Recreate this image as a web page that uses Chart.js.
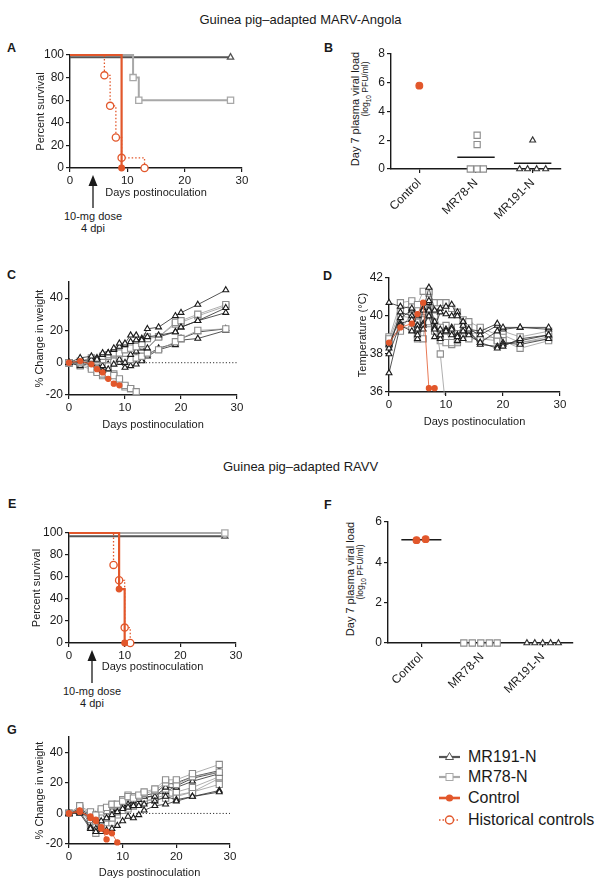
<!DOCTYPE html>
<html lang="en">
<head>
<meta charset="UTF-8">
<title>Guinea pig-adapted MARV-Angola / RAVV</title>
<script src="https://cdn.jsdelivr.net/npm/chart.js"></script>
<style>
  body { margin: 0; background: #fff; font-family: "Liberation Sans", Arial, sans-serif; color: #1a1a1a; }
  #page { position: relative; width: 601px; height: 888px; overflow: hidden; }
  canvas { position: absolute; }
  .head { position: absolute; left: 0; width: 601px; text-align: center; font-size: 13px; line-height: 18px; }
  .tag { position: absolute; font-weight: bold; font-size: 12.5px; line-height: 14px; }
  .dose { position: absolute; width: 90px; margin-left: -45px; text-align: center; font-size: 11px; line-height: 12px; }
  .vt { position: absolute; transform: translate(-50%, -50%) rotate(-90deg); white-space: nowrap; line-height: 12px; }
  .leg { position: absolute; left: 439px; top: 0; font-size: 16px; }
  .leg div { position: absolute; left: 0; height: 20px; width: 170px; white-space: nowrap; }
  .leg svg { position: absolute; left: 0; top: 0; }
  .leg span { position: absolute; left: 29px; top: 0; line-height: 20px; }
</style>
</head>
<body>
<div id="page">
  <div class="head" style="top:11px">Guinea pig–adapted MARV-Angola</div>
  <div class="head" style="top:458px">Guinea pig–adapted RAVV</div>

  <div class="tag" style="left:7px;top:41px">A</div>
  <div class="tag" style="left:324px;top:41px">B</div>
  <div class="tag" style="left:7px;top:268px">C</div>
  <div class="tag" style="left:323px;top:269px">D</div>
  <div class="tag" style="left:8px;top:497px">E</div>
  <div class="tag" style="left:324px;top:498px">F</div>
  <div class="tag" style="left:7px;top:723px">G</div>

  <!-- dose arrows -->
  <svg style="position:absolute;left:87px;top:175px" width="12" height="34">
    <polygon points="6,0 1.5,11 10.5,11" fill="#1a1a1a"/>
    <line x1="6" y1="10" x2="6" y2="33" stroke="#1a1a1a" stroke-width="1.3"/>
  </svg>
  <div class="dose" style="left:93px;top:210px">10-mg dose<br>4 dpi</div>
  <svg style="position:absolute;left:86px;top:650px" width="12" height="34">
    <polygon points="6,0 1.5,11 10.5,11" fill="#1a1a1a"/>
    <line x1="6" y1="10" x2="6" y2="33" stroke="#1a1a1a" stroke-width="1.3"/>
  </svg>
  <div class="dose" style="left:92px;top:685px">10-mg dose<br>4 dpi</div>

  <!-- viral load axis titles -->
  <div class="vt" style="left:355px;top:109px;font-size:11px">Day 7 plasma viral load</div>
  <div class="vt" style="left:367px;top:89px;font-size:8.5px">(log<sub style="font-size:6.5px">10</sub> PFU/ml)</div>
  <div class="vt" style="left:350px;top:579px;font-size:11px">Day 7 plasma viral load</div>
  <div class="vt" style="left:362px;top:572px;font-size:8.5px">(log<sub style="font-size:6.5px">10</sub> PFU/ml)</div>

  <!-- legend -->
  <div class="leg">
    <div style="top:747px">
      <svg width="22" height="20"><line x1="0" y1="10" x2="21" y2="10" stroke="#555" stroke-width="2.2"/>
        <polygon points="10.5,5.5 6.5,12.5 14.5,12.5" fill="#fff" stroke="#555" stroke-width="1"/></svg>
      <span>MR191-N</span></div>
    <div style="top:767px">
      <svg width="22" height="20"><line x1="0" y1="10" x2="21" y2="10" stroke="#a8a8a8" stroke-width="2.2"/>
        <rect x="7" y="6.5" width="7" height="7" fill="#fff" stroke="#a8a8a8" stroke-width="1"/></svg>
      <span>MR78-N</span></div>
    <div style="top:788px">
      <svg width="22" height="20"><line x1="0" y1="10" x2="21" y2="10" stroke="#e2572b" stroke-width="2.6"/>
        <circle cx="10.5" cy="10" r="3.6" fill="#e2572b"/></svg>
      <span>Control</span></div>
    <div style="top:810px">
      <svg width="22" height="20"><line x1="0" y1="10" x2="21" y2="10" stroke="#e2572b" stroke-width="1.6" stroke-dasharray="1.5,2"/>
        <circle cx="10.5" cy="10" r="4" fill="#fff" stroke="#e2572b" stroke-width="1.4"/></svg>
      <span>Historical controls</span></div>
  </div>
</div>

<script>
// ---------------- data ----------------
// A: survival, MARV-Angola (% surviving)
const survDaysA_MR191 = [0, 28];
const survPctA_MR191 = [98, 98];
const survDaysA_MR78 = [0, 11, 12, 28];
const survPctA_MR78 = [100, 80, 60, 60];
const survDaysA_Ctrl = [0, 9];
const survPctA_Ctrl = [100, 0];
const survDaysA_Hist = [0, 6, 7, 8, 9, 13];
const survPctA_Hist = [100, 82, 55, 27, 9, 0];

// E: survival, RAVV
const survDaysE_MR191 = [0, 28];
const survPctE_MR191 = [97, 97];
const survDaysE_MR78 = [0, 28];
const survPctE_MR78 = [100, 100];
const survDaysE_Ctrl = [0, 9, 10];
const survPctE_Ctrl = [100, 49, 0];
const survDaysE_Hist = [0, 8, 9, 10, 11];
const survPctE_Hist = [100, 71, 57, 14, 0];

// B / F: day 7 plasma viral load (log10 PFU/ml), x = group index + jitter
const groupNames = ['Control', 'MR78-N', 'MR191-N'];
const loadB_Ctrl = [5.8];
const xB_Ctrl = [1];
const loadB_MR78 = [2.35, 1.7, 0, 0, 0];
const xB_MR78 = [2.02, 2.02, 1.9, 2.02, 2.13];
const loadB_MR191 = [2.0, 0, 0, 0, 0];
const xB_MR191 = [3.0, 2.77, 2.91, 3.07, 3.23];

const loadF_Ctrl = [5.1, 5.15];
const xF_Ctrl = [0.92, 1.07];
const loadF_MR78 = [0, 0, 0, 0, 0];
const xF_MR78 = [1.7, 1.84, 1.98, 2.12, 2.25];
const loadF_MR191 = [0, 0, 0, 0, 0];
const xF_MR191 = [2.74, 2.87, 3.0, 3.13, 3.26];

// C: % change in weight, MARV-Angola
const daysC = [0, 2, 4, 5, 6, 7, 8, 9, 10, 11, 12, 13, 14, 16, 19, 20, 23, 28];
const wC_MR191_1 = [0, 3, 4, 2, 6, 6, 9, 12, 12, 17, 17, 14, 21, 22, 29, 31, 36, 45];
const wC_MR191_2 = [0, 1, 2, 3, 5, 6, 8, 10, 11, 13, 14, 15, 16, 17, 19, 22, 26, 34];
const wC_MR191_3 = [0, -2, 0, -1, -2, -4, -1, 2, 0, 5, 7, 9, 9, 16, 19, 22, 26, 31];
const wC_MR191_4 = [0, -1, 1, -2, -5, -3, -1, 0, -3, -2, -1, 1, 4, 8, 11, 14, 15, 20];
const wC_MR191_5 = [0, 0, 1, 2, 0, -1, 1, 2, 1, 2, 3, 2, 5, 9, 12, 15, 19, 21];
const wC_MR78_1 = [0, 1, 3, 2, 4, 5, 6, 6, 8, 9, 10, 12, 15, 16, 25, 26, 30, 36];
const wC_MR78_2 = [0, 0, 2, 1, 2, 4, 5, 7, 9, 10, 11, 11, 16, 16, 24, 25, 29, 35];
const wC_MR78_3 = [0, -1, 0, -1, 0, -2, 1, 3, 2, 2, 3, 4, 6, 8, 13, 15, 20, 21];
const wC_MR78_4 = [0, -2, -4, -6, -7, -7, -8, -10, -14, -16, -18];
const wC_MR78_5 = [0, -1, -3, -5, -8, -8, -7, -11, -15, -16];
const wC_Ctrl = [0, 1, -1, -4, -6, -10, -13, -14];

// D: temperature (°C), MARV-Angola
const daysD = [0, 2, 4, 5, 6, 7, 8, 9, 10, 11, 12, 13, 14, 16, 19, 20, 23, 28];
const tD_MR191_1 = [40.7, 40.5, 40.4, 40.0, 40.3, 41.5, 40.3, 40.4, 40.5, 40.6, 40.0, 39.7, 39.3, 39.2, 39.6, 39.4, 39.4, 39.4];
const tD_MR191_2 = [37.0, 39.5, 39.2, 39.0, 39.3, 40.3, 39.3, 39.3, 39.2, 39.3, 38.9, 39.5, 39.2, 38.6, 39.2, 39.3, 39.4, 39.3];
const tD_MR191_3 = [38.0, 39.6, 39.8, 38.8, 40.4, 40.8, 39.4, 40.2, 40.1, 40.0, 40.2, 39.7, 39.0, 38.6, 38.3, 38.4, 38.8, 39.0];
const tD_MR191_4 = [38.3, 40.2, 40.0, 39.3, 39.5, 40.0, 38.9, 39.0, 39.2, 39.4, 38.7, 39.2, 39.2, 38.5, 38.4, 38.5, 38.7, 39.0];
const tD_MR191_5 = [38.5, 39.9, 40.3, 39.5, 39.6, 40.7, 39.7, 38.8, 39.3, 39.0, 39.0, 38.8, 39.3, 39.0, 39.5, 38.6, 38.5, 38.8];
const tD_MR78_1 = [38.8, 40.7, 40.8, 40.6, 41.3, 41.3, 40.7, 40.7, 40.7, 40.4, 40.2, 39.8, 39.7, 39.4, 39.0, 39.2, 38.9, 39.2];
const tD_MR78_2 = [38.9, 39.2, 40.2, 38.8, 38.8, 41.2, 40.0, 38.0, 35.0];
const tD_MR78_3 = [38.6, 40.0, 39.9, 39.4, 40.5, 39.7, 39.2, 38.7, 38.6, 38.6, 38.7, 38.9, 38.8, 38.8, 38.7, 38.7, 38.3, 38.7];
const tD_MR78_4 = [38.5, 39.5, 39.3, 39.0, 39.8, 39.6, 40.2, 39.4, 39.2, 38.5, 38.6, 39.0, 39.5, 38.8, 38.9, 39.0, 38.6, 38.8];
const tD_MR78_5 = [38.7, 40.3, 40.6, 40.0, 39.9, 40.4, 39.5, 39.1, 39.5, 39.2, 39.4, 39.1, 38.9, 39.3, 38.7, 38.6, 38.6, 38.9];
const tD_Ctrl = [38.6, 39.4, 39.6, 40.1, 40.7, 36.2, 36.2];

// G: % change in weight, RAVV
const daysG = [0, 2, 4, 5, 6, 7, 8, 9, 10, 11, 12, 13, 14, 16, 18, 20, 23, 28];
const wG_MR191_1 = [0, 0, -10, -12, -12, -11, -10, -8, -5, -2, -3, -1, 2, 5, 6, 8, 11, 14];
const wG_MR191_2 = [0, 1, -9, -10, -5, -3, -1, 1, 3, 4, 5, 5, 6, 8, 11, 9, 11, 15];
const wG_MR191_3 = [0, 2, -2, -4, 2, 1, 2, 3, 5, 6, 8, 9, 11, 11, 17, 17, 21, 26];
const wG_MR191_4 = [0, 1, -3, -1, 0, -2, 0, 2, 4, 6, 7, 9, 10, 12, 14, 18, 23, 27];
const wG_MR191_5 = [0, 3, -1, -3, -1, 1, 3, 4, 6, 8, 8, 10, 12, 13, 19, 20, 24, 28];
const wG_MR78_1 = [0, 5, 1, -1, 3, 4, 6, 6, 8, 11, 10, 12, 14, 16, 22, 22, 26, 32];
const wG_MR78_2 = [0, 4, 0, -2, 1, 2, 5, 5, 9, 12, 11, 11, 13, 15, 20, 19, 24, 27];
const wG_MR78_3 = [0, 2, -2, -5, -2, 0, 1, 3, 6, 7, 9, 8, 10, 12, 16, 14, 17, 24];
const wG_MR78_4 = [0, 1, -4, -13, -9, -3, -3, 1, 4, 5, 5, 6, 8, 10, 12, 11, 14, 19];
const wG_MR78_5 = [0, 3, -7, -8, -6, -6, -6, -1, 2, 3, 5, 6, 8, 9, 10, 12, 14, 23];
const wG_Ctrl_1 = [0, 2, -3, -5, -10, -12, -13, -19];
const wG_Ctrl_2 = [0, 1, -2, -4, -9, -17];

// tick values
const dayTicks = [0, 10, 20, 30];
const survTicks = [0, 20, 40, 60, 80, 100];
const weightTicks = [-20, 0, 20, 40];
const tempTicks = [36, 38, 40, 42];
const loadTicksB = [0, 2, 4, 6, 8];
const loadTicksF = [0, 2, 4, 6];
const groupTicks = [1, 2, 3];

// ---------------- drawing ----------------
const INK = '#1a1a1a', ORANGE = '#e2572b', DARK = '#555555', LIGHT = '#a8a8a8';
const PAD_T = 10, PAD_R = 14;
Chart.defaults.font.family = "'Liberation Sans', Arial, sans-serif";
Chart.defaults.color = INK;

function axis(min, max, vals, size, title, extra) {
  return Object.assign({
    type: 'linear', min: min, max: max,
    afterBuildTicks: s => { s.ticks = vals.map(v => ({ value: v })); },
    afterFit: s => { if (s.isHorizontal()) s.height = size; else s.width = size; },
    grid: { display: true, drawOnChartArea: false, drawTicks: true, tickLength: 4, color: INK, lineWidth: 1.2 },
    border: { display: true, color: INK, width: 1.4 },
    ticks: { color: INK, font: { size: 12 }, padding: 2, maxRotation: 0, autoSkip: false },
    title: { display: !!title, text: title, color: INK, font: { size: 11 }, padding: 0 }
  }, extra || {});
}

function panel(area, yw, xh, padL, datasets, xScale, yScale) {
  const cv = document.createElement('canvas');
  const left = area.l - yw - padL, top = area.t - PAD_T;
  const w = area.r + PAD_R - left, h = area.b + xh - top;
  cv.width = w; cv.height = h;
  cv.style.left = left + 'px'; cv.style.top = top + 'px';
  cv.style.width = w + 'px'; cv.style.height = h + 'px';
  document.getElementById('page').appendChild(cv);
  new Chart(cv, {
    type: 'line',
    data: { datasets: datasets },
    options: {
      responsive: false, animation: false, events: [],
      layout: { padding: { left: padL, top: PAD_T, right: PAD_R, bottom: 0 } },
      plugins: { legend: { display: false }, tooltip: { enabled: false } },
      scales: { x: xScale, y: yScale }
    }
  });
}

function pts(xs, ys) { return ys.map((y, i) => ({ x: xs[i], y: y })); }

// Kaplan-Meier style step curve
function surv(days, pct, color, shape, r, filled, width, dash) {
  return {
    data: pts(days, pct), stepped: true, clip: false,
    borderColor: color, borderWidth: width, borderDash: dash || [],
    pointStyle: shape, pointRadius: c => c.dataIndex === 0 ? 0 : r,
    pointBorderColor: color, pointBorderWidth: 1.3,
    pointBackgroundColor: filled ? color : '#fff'
  };
}

const STY = {
  mr191: { line: '#2a2a2a', mark: INK, shape: 'triangle', r: 3.4, fill: '#fff' },
  mr78: { line: '#9a9a9a', mark: '#8c8c8c', shape: 'rect', r: 4.4, fill: '#fff' },
  ctrl: { line: ORANGE, mark: ORANGE, shape: 'circle', r: 2.6, fill: ORANGE }
};
function track(days, vals, kind, clip) {
  const s = STY[kind];
  return {
    data: pts(days, vals), clip: clip,
    borderColor: s.line, borderWidth: 0.8,
    pointStyle: s.shape, pointRadius: s.r, pointBorderWidth: 1.1,
    pointBorderColor: s.mark, pointBackgroundColor: s.fill
  };
}
function zeroLine() {
  return { data: [{ x: 0, y: 0 }, { x: 30, y: 0 }], borderColor: '#333', borderWidth: 1,
           borderDash: [1.2, 2], pointRadius: 0, clip: false };
}

function loadDots(xs, ys, kind) {
  const s = STY[kind];
  return { data: pts(xs, ys), showLine: false, clip: false, pointStyle: s.shape,
           pointRadius: kind === 'ctrl' ? 3.4 : s.r, pointBorderWidth: 1.1,
           pointBorderColor: kind === 'mr191' ? '#333' : s.mark, pointBackgroundColor: s.fill };
}
function meanBar(center, ys) {
  const m = ys.reduce((a, b) => a + b, 0) / ys.length;
  return { data: [{ x: center - 0.33, y: m }, { x: center + 0.33, y: m }], borderColor: INK,
           borderWidth: 1.5, pointRadius: 0, clip: false };
}
function groupAxis(min, max, size) {
  return axis(min, max, groupTicks, size, '', {
    ticks: { color: INK, font: { size: 12 }, padding: 3, minRotation: 45, maxRotation: 45,
             autoSkip: false, callback: v => groupNames[v - 1] }
  });
}
function dayAxis(size) {
  return axis(0, 30, dayTicks, size, 'Days postinoculation', {
    ticks: { color: INK, font: { size: 11.5 }, padding: 2, maxRotation: 0, autoSkip: false }
  });
}

// A
panel({ l: 70, t: 55, r: 242, b: 168 }, 36, 32, 34, [
  surv(survDaysA_Ctrl, survPctA_Ctrl, ORANGE, 'circle', 2.8, true, 2.2),
  surv(survDaysA_Hist, survPctA_Hist, ORANGE, 'circle', 3.6, false, 1.3, [1.5, 2]),
  surv(survDaysA_MR78, survPctA_MR78, LIGHT, 'rect', 4.4, false, 2),
  surv(survDaysA_MR191, survPctA_MR191, DARK, 'triangle', 3.6, false, 2)
], dayAxis(32), axis(0, 100, survTicks, 36, 'Percent survival'));

// B
panel({ l: 391, t: 54, r: 561, b: 169 }, 20, 55, 30, [
  loadDots(xB_Ctrl, loadB_Ctrl, 'ctrl'),
  loadDots(xB_MR78, loadB_MR78, 'mr78'),
  loadDots(xB_MR191, loadB_MR191, 'mr191'),
  meanBar(2, loadB_MR78),
  meanBar(3, loadB_MR191)
], groupAxis(0.5, 3.5, 55), axis(0, 8, loadTicksB, 20, ''));

// C
panel({ l: 69, t: 282, r: 237, b: 395 }, 36, 37, 33, [
  track(daysC, wC_Ctrl, 'ctrl', false),
  track(daysC, wC_MR191_1, 'mr191', false),
  track(daysC, wC_MR191_2, 'mr191', false),
  track(daysC, wC_MR78_1, 'mr78', false),
  track(daysC, wC_MR78_2, 'mr78', false),
  track(daysC, wC_MR191_3, 'mr191', false),
  track(daysC, wC_MR78_3, 'mr78', false),
  track(daysC, wC_MR191_4, 'mr191', false),
  track(daysC, wC_MR191_5, 'mr191', false),
  track(daysC, wC_MR78_4, 'mr78', false),
  track(daysC, wC_MR78_5, 'mr78', false),
  zeroLine()
], dayAxis(37), axis(-20, 50, weightTicks, 36, '% Change in weight'));

// D
const clipD = { left: 8, top: 8, right: 8, bottom: 3 };
panel({ l: 389, t: 278, r: 560, b: 392 }, 33, 37, 34, [
  track(daysD, tD_Ctrl, 'ctrl', clipD),
  track(daysD, tD_MR191_1, 'mr191', clipD),
  track(daysD, tD_MR191_2, 'mr191', clipD),
  track(daysD, tD_MR191_3, 'mr191', clipD),
  track(daysD, tD_MR191_4, 'mr191', clipD),
  track(daysD, tD_MR191_5, 'mr191', clipD),
  track(daysD, tD_MR78_1, 'mr78', clipD),
  track(daysD, tD_MR78_2, 'mr78', clipD),
  track(daysD, tD_MR78_3, 'mr78', clipD),
  track(daysD, tD_MR78_4, 'mr78', clipD),
  track(daysD, tD_MR78_5, 'mr78', clipD)
], dayAxis(37), axis(36, 42, tempTicks, 33, 'Temperature (°C)'));

// E
panel({ l: 69, t: 533, r: 236, b: 643 }, 39, 31, 30, [
  surv(survDaysE_Ctrl, survPctE_Ctrl, ORANGE, 'circle', 2.8, true, 2.2),
  surv(survDaysE_Hist, survPctE_Hist, ORANGE, 'circle', 3.6, false, 1.3, [1.5, 2]),
  surv(survDaysE_MR78, survPctE_MR78, LIGHT, 'rect', 4.4, false, 2),
  surv(survDaysE_MR191, survPctE_MR191, DARK, 'triangle', 3.6, false, 2)
], dayAxis(31), axis(0, 100, survTicks, 39, 'Percent survival'));

// F
panel({ l: 388, t: 522, r: 573, b: 643 }, 20, 60, 30, [
  loadDots(xF_Ctrl, loadF_Ctrl, 'ctrl'),
  loadDots(xF_MR78, loadF_MR78, 'mr78'),
  loadDots(xF_MR191, loadF_MR191, 'mr191'),
  meanBar(1, loadF_Ctrl)
], groupAxis(0.45, 3.5, 60), axis(0, 6, loadTicksF, 20, ''));

// G
panel({ l: 69, t: 737, r: 230, b: 844 }, 36, 36, 33, [
  track(daysG, wG_Ctrl_1, 'ctrl', false),
  track(daysG, wG_Ctrl_2, 'ctrl', false),
  track(daysG, wG_MR191_1, 'mr191', false),
  track(daysG, wG_MR191_2, 'mr191', false),
  track(daysG, wG_MR78_1, 'mr78', false),
  track(daysG, wG_MR78_2, 'mr78', false),
  track(daysG, wG_MR191_3, 'mr191', false),
  track(daysG, wG_MR78_3, 'mr78', false),
  track(daysG, wG_MR191_4, 'mr191', false),
  track(daysG, wG_MR191_5, 'mr191', false),
  track(daysG, wG_MR78_4, 'mr78', false),
  track(daysG, wG_MR78_5, 'mr78', false),
  zeroLine()
], dayAxis(36), axis(-20, 50, weightTicks, 36, '% Change in weight'));
</script>
</body>
</html>
